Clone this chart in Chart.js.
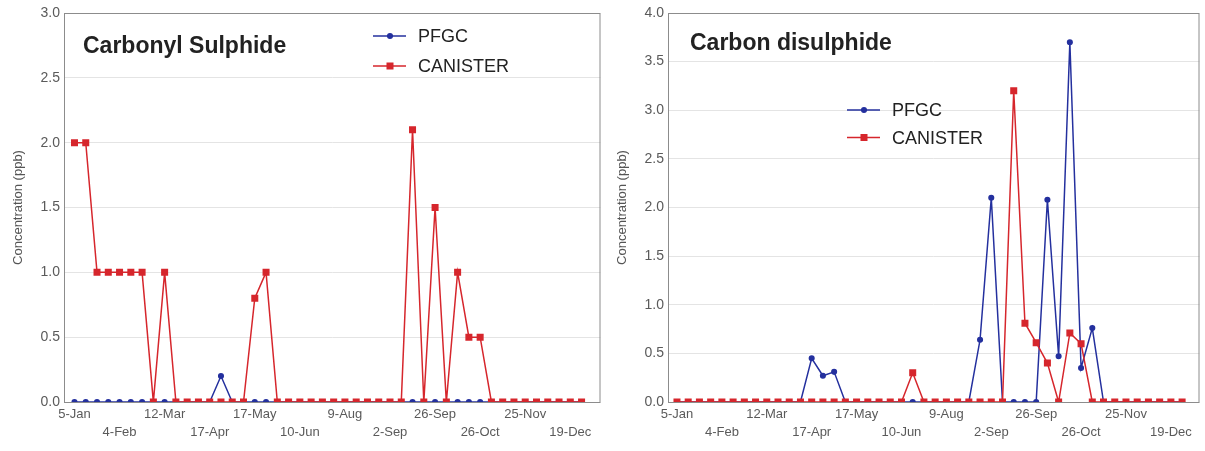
<!DOCTYPE html>
<html>
<head>
<meta charset="utf-8">
<script src="https://cdn.jsdelivr.net/npm/chart.js@4.4.1/dist/chart.umd.min.js"></script>
<style>
    body { margin: 0; background: #fff; width: 1205px; height: 451px; overflow: hidden; position: relative; }
    canvas { position: absolute; top: 0; }
</style>
</head>
<body>
<canvas id="cosChart" width="606" height="451" style="left:0"></canvas>
<canvas id="csChart" width="599" height="451" style="left:606px"></canvas>
<script>
// x axis: sample number, labelled every 4th sample
const tickIndex = [0, 4, 8, 12, 16, 20, 24, 28, 32, 36, 40, 44];
const tickLabels = ['5-Jan', '4-Feb', '12-Mar', '17-Apr', '17-May', '10-Jun', '9-Aug', '2-Sep', '26-Sep', '26-Oct', '25-Nov', '19-Dec'];

// Carbonyl Sulphide (ppb)
const cosPFGC = [0, 0, 0, 0, 0, 0, 0, 0, 0, 0, 0, 0, 0, 0.2, 0, 0, 0, 0, 0, 0,
    0, 0, 0, 0, 0, 0, 0, 0, 0, 0, 0, 0, 0, 0, 0, 0, 0, 0, 0, 0,
    0, 0, 0, 0, 0, 0];
const cosCanister = [2, 2, 1, 1, 1, 1, 1, 0, 1, 0, 0, 0, 0, 0, 0, 0, 0.8, 1, 0, 0,
    0, 0, 0, 0, 0, 0, 0, 0, 0, 0, 2.1, 0, 1.5, 0, 1, 0.5, 0.5, 0, 0, 0,
    0, 0, 0, 0, 0, 0];

// Carbon disulphide (ppb)
const csPFGC = [0, 0, 0, 0, 0, 0, 0, 0, 0, 0, 0, 0, 0.45, 0.27, 0.31, 0, 0, 0, 0, 0,
    0, 0, 0, 0, 0, 0, 0, 0.64, 2.1, 0, 0, 0, 0, 2.08, 0.47, 3.7, 0.35, 0.76, 0, 0,
    0, 0, 0, 0, 0, 0];
const csCanister = [0, 0, 0, 0, 0, 0, 0, 0, 0, 0, 0, 0, 0, 0, 0, 0, 0, 0, 0, 0,
    0, 0.3, 0, 0, 0, 0, 0, 0, 0, 0, 3.2, 0.81, 0.61, 0.4, 0, 0.71, 0.6, 0, 0, 0,
    0, 0, 0, 0, 0, 0];

const BLUE = '#24309e';
const RED = '#d6262c';
const FONT = '"Liberation Sans", Arial, sans-serif';

Chart.defaults.font.family = FONT;
Chart.defaults.color = '#5a5a5a';

// frame, title and legend drawn inside the plot
const overlay = {
    id: 'overlay',
    beforeDatasetsDraw(chart) {
        const { ctx, chartArea: a } = chart;
        ctx.save();
        ctx.strokeStyle = '#8c8c8c';
        ctx.lineWidth = 1;
        ctx.strokeRect(a.left + 0.5, a.top + 0.5, a.right - a.left - 1, a.bottom - a.top);
        ctx.restore();
    },
    afterDraw(chart, args, opts) {
        const ctx = chart.ctx;
        ctx.save();
        ctx.fillStyle = '#222';
        ctx.font = 'bold 23px ' + FONT;
        ctx.textBaseline = 'alphabetic';
        ctx.fillText(opts.title, opts.titleX, opts.titleY);

        ctx.font = '18px ' + FONT;
        ctx.textBaseline = 'middle';
        const shown = [0, 1];
        shown.forEach((i, row) => {
            const ds = chart.data.datasets[i];
            const y = opts.legendY[row];
            ctx.strokeStyle = ds.borderColor;
            ctx.lineWidth = 1.5;
            ctx.beginPath();
            ctx.moveTo(opts.legendX, y);
            ctx.lineTo(opts.legendX + 33, y);
            ctx.stroke();
            ctx.fillStyle = ds.borderColor;
            Chart.helpers.drawPoint(ctx, {
                pointStyle: ds.pointStyle, radius: ds.pointRadius, borderWidth: 1
            }, opts.legendX + 17, y);
            ctx.fillStyle = '#222';
            ctx.fillText(ds.label, opts.legendX + 45, y + 1.5);
        });
        ctx.restore();
    }
};

function makeChart(id, pfgc, canister, yMax, xMin, xMax, yWidth, titlePad, extra) {
    return new Chart(document.getElementById(id), {
        type: 'line',
        data: {
            datasets: [{
                label: 'PFGC',
                data: pfgc.map((v, i) => ({ x: i, y: v })),
                borderColor: BLUE,
                backgroundColor: BLUE,
                pointStyle: 'circle',
                pointRadius: 2.3,
                borderWidth: 1.5,
                order: 2
            }, {
                label: 'CANISTER',
                data: canister.map((v, i) => ({ x: i, y: v })),
                borderColor: RED,
                backgroundColor: RED,
                pointStyle: 'rect',
                pointRadius: 3.9,
                borderWidth: 1.5,
                order: 1
            }]
        },
        options: {
            responsive: false,
            animation: false,
            layout: { padding: { top: 13, right: extra.padRight } },
            plugins: {
                legend: { display: false },
                tooltip: { enabled: false },
                overlay: extra
            },
            scales: {
                x: {
                    type: 'linear',
                    min: xMin,
                    max: xMax,
                    afterBuildTicks: axis => { axis.ticks = tickIndex.map(v => ({ value: v })); },
                    afterFit: axis => { axis.height = 49; },
                    grid: { display: false, drawTicks: false },
                    border: { display: false },
                    ticks: {
                        autoSkip: false,
                        maxRotation: 0,
                        padding: 4,
                        font: { size: 13, lineHeight: 1.35 },
                        callback: value => {
                            const k = tickIndex.indexOf(value);
                            if (k < 0) return '';
                            return k % 2 === 0 ? [tickLabels[k], ''] : ['', tickLabels[k]];
                        }
                    }
                },
                y: {
                    min: 0,
                    max: yMax,
                    afterFit: axis => { axis.width = yWidth; },
                    grid: { color: '#e4e4e4', drawTicks: false },
                    border: { display: false },
                    ticks: {
                        stepSize: 0.5,
                        padding: 4,
                        font: { size: 14 },
                        callback: v => v.toFixed(1)
                    },
                    title: {
                        display: true,
                        text: 'Concentration (ppb)',
                        color: '#555',
                        font: { size: 13 },
                        padding: { top: titlePad, bottom: 0 }
                    }
                }
            }
        },
        plugins: [overlay]
    });
}

makeChart('cosChart', cosPFGC, cosCanister, 3, -0.93, 46.68, 64, 11, {
    title: 'Carbonyl Sulphide', titleX: 83, titleY: 53,
    legendX: 373, legendY: [36, 66], padRight: 4
});

makeChart('csChart', csPFGC, csCanister, 4, -0.8, 46.55, 62, 9, {
    title: 'Carbon disulphide', titleX: 84, titleY: 50,
    legendX: 241, legendY: [110, 137.5], padRight: 2
});
</script>
</body>
</html>
